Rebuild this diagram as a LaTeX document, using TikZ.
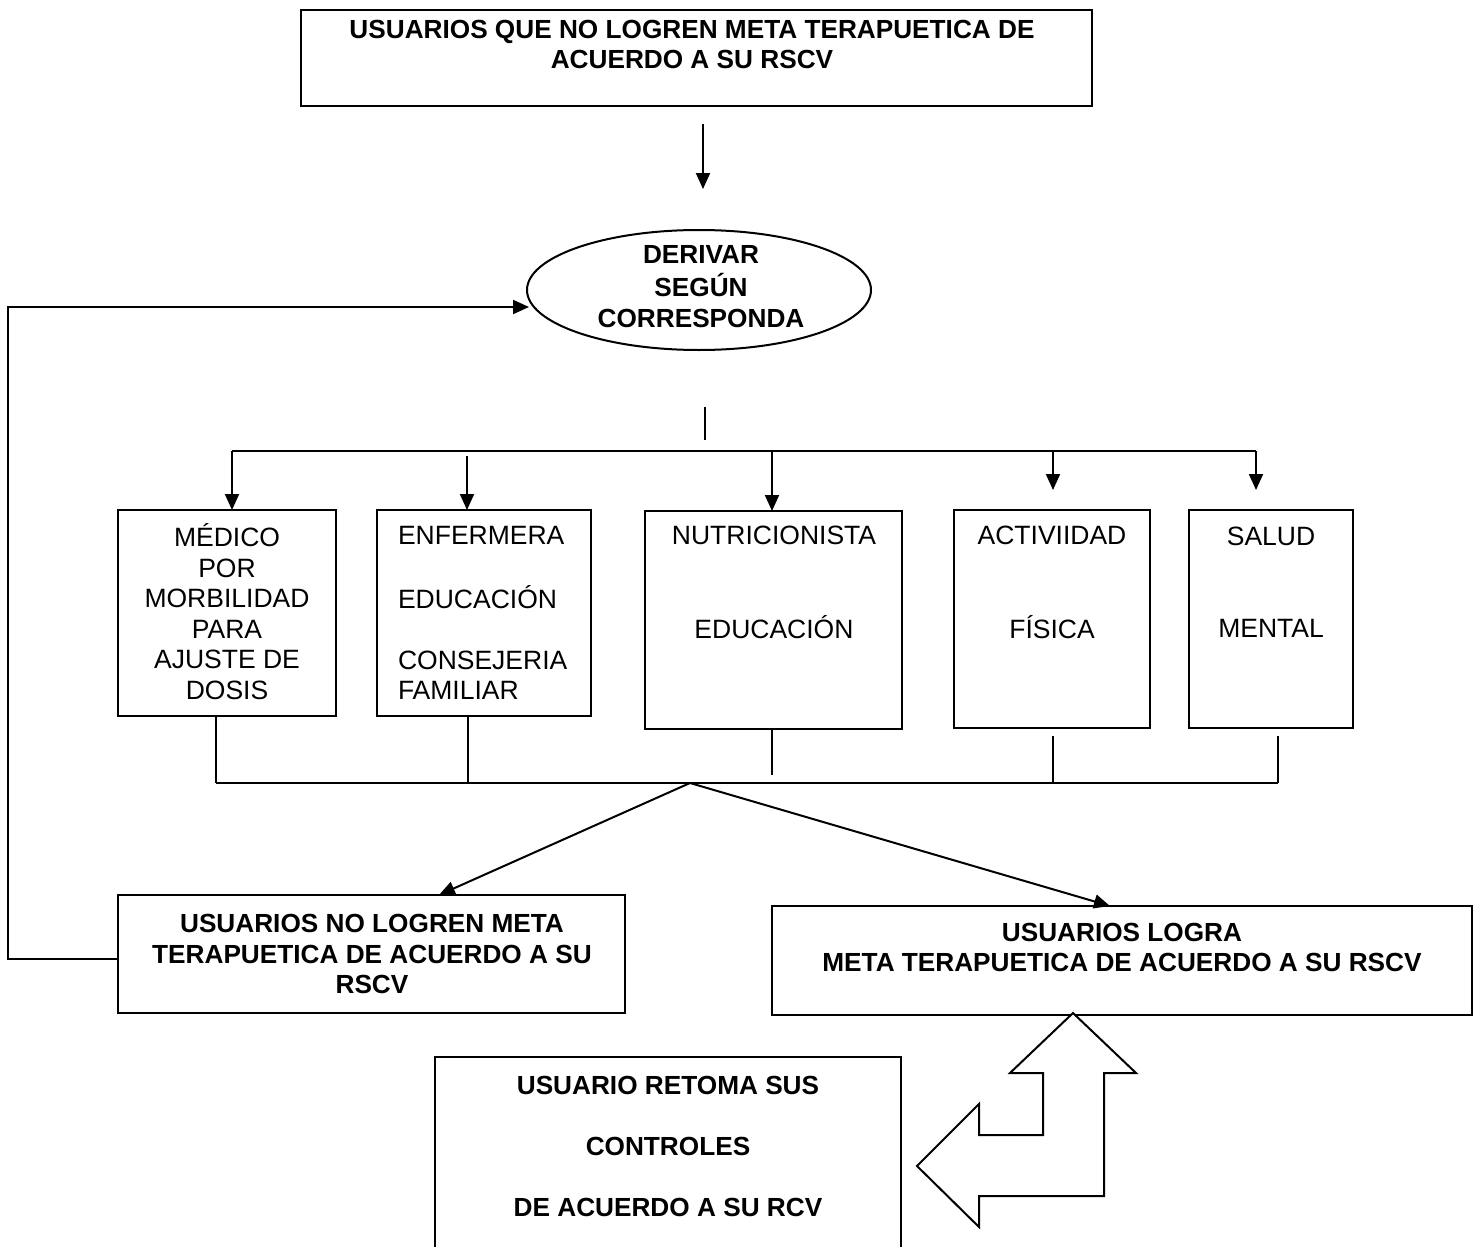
\documentclass[tikz,border=0pt]{standalone}
\usepackage{fontspec}
\setmainfont{Liberation Sans}
\usetikzlibrary{arrows.meta,shapes.geometric}
\begin{document}
\begin{tikzpicture}[x=1pt,y=-1pt,
  every node/.style={inner sep=0pt,outer sep=0pt},
  box/.style={draw,line width=2pt,rectangle},
  txt/.style={font=\fontsize{26.5}{30.5}\selectfont,align=center},
  btxt/.style={font=\fontsize{26.2}{30.5}\selectfont\bfseries,align=center},
  arr/.style={line width=2pt,-{Triangle[length=16pt,width=14pt]}},
  thin/.style={line width=1.5pt},
  ln/.style={line width=2pt},
  line join=miter]
\useasboundingbox (0,0) rectangle (1476,1247);
\clip (0,0) rectangle (1476,1247);
\fill[white] (0,0) rectangle (1476,1247);

% boxes
\node[box,minimum width=791pt,minimum height=96pt] (top) at (696.5,58) {};
\node[btxt] (toptxt) at (692,47.5) {\strut USUARIOS QUE NO LOGREN META TERAPUETICA DE\\ACUERDO A SU RSCV\strut};

\node[draw,ellipse,line width=2pt,minimum width=344pt,minimum height=120pt] (der) at (699,290) {};
\node[btxt] (dertxt) at (701,289) {\strut DERIVAR\\SEGÚN\\CORRESPONDA\strut};

\node[box,minimum width=218pt,minimum height=206pt] (b1) at (227,613) {};
\node[txt] (b1t) at (227,616) {\strut MÉDICO\\POR\\MORBILIDAD\\PARA\\AJUSTE DE\\DOSIS\strut};

\node[box,minimum width=214pt,minimum height=206pt] (b2) at (484,613) {};
\node[txt,align=left,anchor=west] (b2t) at (398,616) {\strut ENFERMERA\\[30.5pt]EDUCACIÓN\\[30.5pt]CONSEJERIA\\FAMILIAR\strut};

\node[box,minimum width=257pt,minimum height=218pt] (b3) at (773.5,620) {};
\node[txt] (b3t) at (774,585.5) {\strut NUTRICIONISTA\\[61pt]EDUCACIÓN\strut};

\node[box,minimum width=196pt,minimum height=218pt] (b4) at (1052,619) {};
\node[txt] (b4t) at (1052,585.5) {\strut ACTIVIIDAD\\[61pt]FÍSICA\strut};

\node[box,minimum width=164pt,minimum height=218pt] (b5) at (1271,619) {};
\node[txt] (b5t) at (1271,585.5) {\strut SALUD\\[61pt]MENTAL\strut};

\node[box,minimum width=507pt,minimum height=118pt] (nolog) at (371.5,954) {};
\node[btxt] (nologt) at (372,957) {\strut USUARIOS NO LOGREN META\\TERAPUETICA DE ACUERDO A SU\\RSCV\strut};

\node[box,minimum width=700pt,minimum height=109pt] (log) at (1122,960.5) {};
\node[btxt] (logt) at (1122,950.5) {\strut USUARIOS LOGRA\\META TERAPUETICA DE ACUERDO A SU RSCV\strut};

\node[box,minimum width=466pt,minimum height=220pt] (ret) at (668,1167) {};
\node[btxt] (rett) at (668,1149) {\strut USUARIO RETOMA SUS\\[30.5pt]CONTROLES\\[30.5pt]DE ACUERDO A SU RCV\strut};

% coordinates
\coordinate (a1) at (703,124);
\coordinate (a2) at (703,189);
\coordinate (t1) at (705,407);
\coordinate (t2) at (705,440);
\coordinate (barL) at (232,451);
\coordinate (barR) at (1256,451);
\coordinate (s2) at (467,456);
\coordinate (s3) at (772,451);
\coordinate (s4) at (1053,451);
\coordinate (s5) at (1256,451);
\coordinate (e4) at (1053,490);
\coordinate (e5) at (1256,490);
\coordinate (l1) at (216,783);
\coordinate (l5) at (1278,783);
\coordinate (apex) at (690,783);
\coordinate (fb) at (118,959);
\coordinate (fb1) at (8,959);
\coordinate (fb2) at (8,307);
\coordinate (fbend) at (529,307);

% connectors
\draw[arr] (a1) -- (a2);
\draw[ln] (t1) -- (t2);
\draw[ln] (barL) -- (barR);
\draw[arr] (barL) -- (barL |- b1.north);
\draw[arr] (s2) -- (s2 |- b2.north);
\draw[arr] (s3) -- (s3 |- b3.north);
\draw[arr] (s4) -- (e4);
\draw[arr] (s5) -- (e5);

\draw[thin] (b1.south -| 216,0) -- (216,783);
\draw[thin] (b2.south -| 468,0) -- (468,783);
\draw[thin] (b3.south -| 772,0) -- (772,775);
\draw[thin] (1053,736) -- (1053,783);
\draw[thin] (1278,736) -- (1278,783);
\draw[line width=2.5pt] (l1) -- (l5);

\draw[arr] (apex) -- (nolog.north -| 439,0);
\draw[arr] (apex) -- (log.north -| 1110,0);

\draw[arr] (fb) -- (fb1) -- (fb2) -- (fbend);

% bent arrow
\draw[line width=2pt,fill=white] (1073,1013) -- (1136,1073) -- (1104,1073) -- (1104,1196)
  -- (979,1196) -- (979,1227) -- (917,1166) -- (979,1104) -- (979,1135)
  -- (1043,1135) -- (1043,1073) -- (1010,1073) -- cycle;
\end{tikzpicture}
\end{document}
